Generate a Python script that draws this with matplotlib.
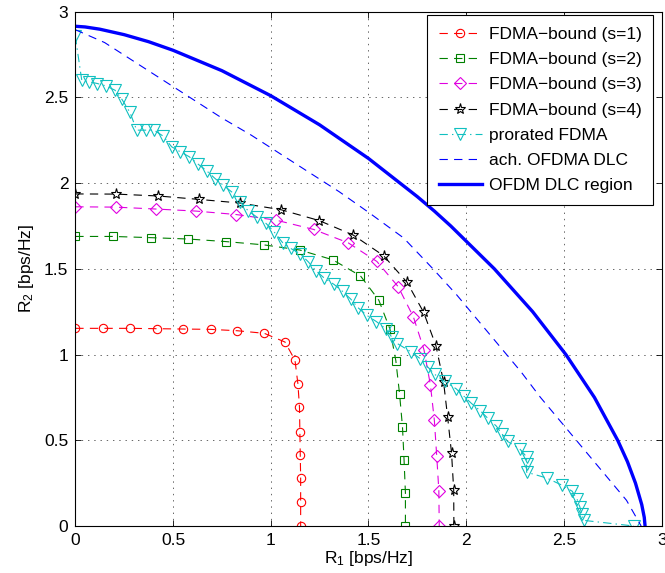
import matplotlib
matplotlib.use("Agg")
from matplotlib import pyplot as plt

plt.rcParams['font.family'] = ['Liberation Sans', 'DejaVu Sans']
plt.rcParams['mathtext.fontset'] = 'custom'
plt.rcParams['mathtext.rm'] = 'Liberation Sans'
plt.rcParams['mathtext.default'] = 'regular'
plt.rcParams['lines.scale_dashes'] = False

# FDMA-bound curves for s = 1..4
s1_x = [0, 0.140, 0.280, 0.416, 0.549, 0.693, 0.829, 0.967, 1.073, 1.124, 1.139, 1.147, 1.149, 1.151, 1.153, 1.153, 1.153]
s1_y = [1.153, 1.153, 1.153, 1.151, 1.149, 1.147, 1.139, 1.124, 1.073, 0.967, 0.829, 0.693, 0.549, 0.416, 0.280, 0.140, 0]

s2_x = [0, 0.193, 0.386, 0.578, 0.771, 0.964, 1.148, 1.317, 1.459, 1.553, 1.610, 1.640, 1.659, 1.674, 1.682, 1.689, 1.689]
s2_y = [1.689, 1.689, 1.682, 1.674, 1.659, 1.640, 1.610, 1.553, 1.459, 1.317, 1.148, 0.964, 0.771, 0.578, 0.386, 0.193, 0]

s3_x = [0, 0.207, 0.411, 0.617, 0.822, 1.028, 1.219, 1.396, 1.543, 1.652, 1.730, 1.784, 1.817, 1.837, 1.849, 1.860, 1.862]
s3_y = [1.862, 1.860, 1.849, 1.837, 1.817, 1.784, 1.730, 1.652, 1.543, 1.396, 1.219, 1.028, 0.822, 0.617, 0.411, 0.207, 0]

s4_x = [0, 0.210, 0.425, 0.634, 0.842, 1.052, 1.247, 1.422, 1.577, 1.697, 1.782, 1.845, 1.884, 1.905, 1.925, 1.936, 1.937]
s4_y = [1.937, 1.936, 1.925, 1.905, 1.884, 1.845, 1.782, 1.697, 1.577, 1.422, 1.247, 1.052, 0.842, 0.634, 0.425, 0.210, 0]

# prorated FDMA
pr_x = [0, 0.033, 0.072, 0.113, 0.157, 0.203, 0.239, 0.280, 0.314, 0.360, 0.403, 0.450, 0.493, 0.537, 0.583, 0.628,
        0.672, 0.715, 0.757, 0.800, 0.843, 0.885, 0.928, 0.976, 1.017, 1.064, 1.102, 1.150, 1.192, 1.230, 1.274, 1.324,
        1.368, 1.409, 1.446, 1.490, 1.541, 1.589, 1.619, 1.648, 1.716, 1.765, 1.803, 1.838, 1.891, 1.949, 1.988, 2.027,
        2.072, 2.111, 2.154, 2.183, 2.212, 2.274, 2.309, 2.309, 2.309, 2.412, 2.488, 2.542, 2.567, 2.581, 2.591, 2.601, 2.858]
pr_y = [2.858, 2.601, 2.591, 2.581, 2.567, 2.542, 2.488, 2.412, 2.309, 2.309, 2.309, 2.274, 2.212, 2.183, 2.154, 2.111,
        2.072, 2.027, 1.988, 1.949, 1.891, 1.838, 1.803, 1.765, 1.716, 1.648, 1.619, 1.589, 1.541, 1.490, 1.446, 1.409,
        1.368, 1.324, 1.274, 1.230, 1.192, 1.150, 1.102, 1.064, 1.017, 0.976, 0.928, 0.885, 0.843, 0.800, 0.757, 0.715,
        0.672, 0.628, 0.583, 0.537, 0.493, 0.450, 0.403, 0.360, 0.314, 0.280, 0.239, 0.203, 0.157, 0.113, 0.072, 0.033, 0]

# achievable OFDMA DLC
ach_x = [0, 0.15, 0.30, 0.45, 0.60, 0.75, 0.90, 1.05, 1.20, 1.35, 1.50, 1.68, 1.83, 1.95, 2.06, 2.17, 2.28, 2.38, 2.49, 2.60, 2.71, 2.82, 2.895]
ach_y = [2.895, 2.82, 2.71, 2.60, 2.49, 2.38, 2.28, 2.17, 2.06, 1.95, 1.83, 1.68, 1.50, 1.35, 1.20, 1.05, 0.90, 0.75, 0.60, 0.45, 0.30, 0.15, 0]

# OFDM DLC region boundary
dlc_x = [0, 0.05, 0.125, 0.25, 0.375, 0.5, 0.75, 1.0, 1.25, 1.5, 1.75, 1.837, 1.921, 2.144, 2.340, 2.510, 2.656, 2.775, 2.825, 2.866, 2.898, 2.911, 2.915]
dlc_y = [2.915, 2.911, 2.898, 2.866, 2.825, 2.775, 2.656, 2.510, 2.340, 2.144, 1.921, 1.837, 1.75, 1.5, 1.25, 1.0, 0.75, 0.5, 0.375, 0.25, 0.125, 0.05, 0]

ticks = [0, 0.5, 1, 1.5, 2, 2.5, 3]
tick_labels = ['0', '0.5', '1', '1.5', '2', '2.5', '3']

fig = plt.figure(figsize=(6.65, 5.73), dpi=100)
ax = fig.add_axes([0.1132, 0.082, 0.8818, 0.8976])

dash = (0, (6, 4.5))
mk = dict(markerfacecolor='none', markeredgewidth=0.8, linewidth=0.8)

ax.plot(s1_x, s1_y, color='#ff0000', linestyle=dash, marker='o', markersize=6, label='FDMA\u2212bound (s=1)', **mk)
ax.plot(s2_x, s2_y, color='#008000', linestyle=dash, marker='s', markersize=6, label='FDMA\u2212bound (s=2)', **mk)
ax.plot(s3_x, s3_y, color='#e000e0', linestyle=dash, marker='D', markersize=6, label='FDMA\u2212bound (s=3)', **mk)
ax.plot(s4_x, s4_y, color='#000000', linestyle=dash, marker='*', markersize=8, label='FDMA\u2212bound (s=4)', **mk)
ax.plot(pr_x, pr_y, color='#10c0c0', linestyle=(0, (6, 3, 1, 3)), marker='v', markersize=8, label='prorated FDMA', **mk)
ax.plot(ach_x, ach_y, color='#0000ff', linestyle=dash, linewidth=0.8, label='ach. OFDMA DLC')
ax.plot(dlc_x, dlc_y, color='#0000ff', linewidth=2.4, label='OFDM DLC region')

ax.set_xlim(0, 3)
ax.set_ylim(0, 3)
ax.set_xticks(ticks)
ax.set_xticklabels(tick_labels)
ax.set_yticks(ticks)
ax.set_yticklabels(tick_labels)
ax.tick_params(direction='in', length=4.5, width=0.6, labelsize=12.5, pad=5, top=True, right=True)
ax.grid(True, color='0.3', linestyle=(0, (1, 3.5)), linewidth=0.6)
for sp in ax.spines.values():
    sp.set_linewidth(0.8)

ax.set_xlabel('R$_1$ [bps/Hz]', fontsize=12.5, labelpad=1)
ax.set_ylabel('R$_2$ [bps/Hz]', fontsize=12.5, labelpad=6)

leg = ax.legend(loc='upper right', bbox_to_anchor=(0.9857, 0.9936), borderaxespad=0, fontsize=12.5,
                fancybox=False, framealpha=1, edgecolor='black', handlelength=2.45, handletextpad=0.4,
                labelspacing=0.58, borderpad=0.68)
leg.get_frame().set_linewidth(0.8)

plt.savefig('out.png', dpi=100)
